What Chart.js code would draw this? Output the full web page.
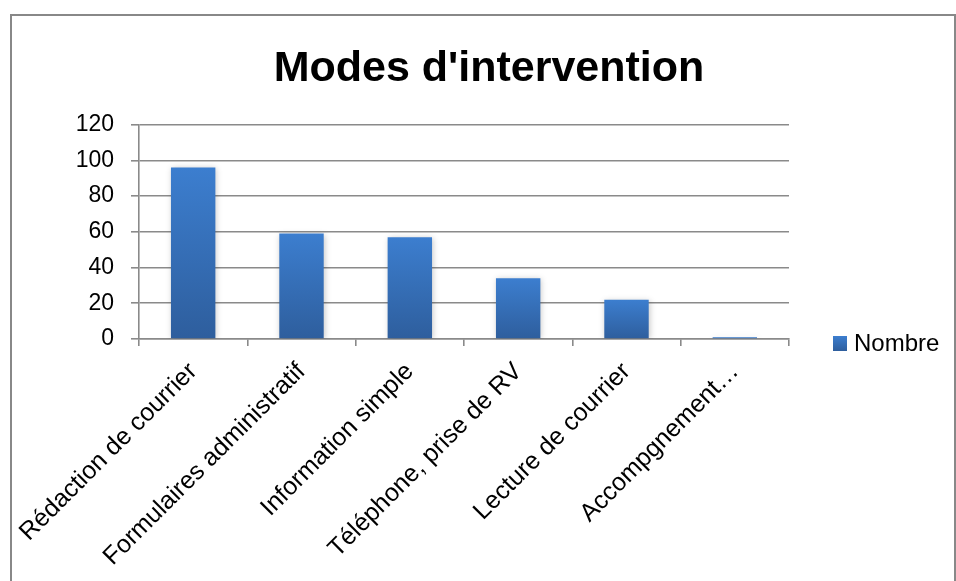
<!DOCTYPE html>
<html><head><meta charset="utf-8">
<script src="https://cdn.jsdelivr.net/npm/chart.js@4"></script>
<style>
html,body{margin:0;padding:0;background:#fff;overflow:hidden}
#frame{position:absolute;left:10px;top:14px;width:946px;height:600px;border:2px solid #888;box-sizing:border-box}
#wrap{position:absolute;left:0;top:0;width:956px;height:581px}
</style></head><body>
<div id="frame"></div>
<div id="wrap"><canvas id="c" width="956" height="581"></canvas></div>
<script>
const categories = ["Rédaction de courrier", "Formulaires administratif", "Information simple", "Téléphone, prise de RV", "Lecture de courrier", "Accompgnement…"];
const values = [96, 59, 57, 34, 22, 1];
const seriesName = "Nombre";
const chartTitle = "Modes d'intervention";
const yMin = 0, yMax = 120, yStep = 20;

const FONT = 'Liberation Sans';
const GRID = '#8a8a8a';
const TOP_COL = '#3C7ECF', BOT_COL = '#2E5E9D';

function barFill(ctx) {
  const chart = ctx.chart;
  if (!chart.chartArea) return TOP_COL;
  const y = chart.scales.y;
  const v = ctx.raw;
  const yt = y.getPixelForValue(v), yb = y.getPixelForValue(0);
  if (Math.abs(yb - yt) < 1) return TOP_COL;
  const g = chart.ctx.createLinearGradient(0, yt, 0, yb);
  g.addColorStop(0, TOP_COL);
  g.addColorStop(1, BOT_COL);
  return g;
}

const titleCenterPlugin = {
  id: 'titleCenter',
  afterLayout(chart) {
    const t = chart.titleBlock;
    if (t) { t.left = 10; t.right = 968; }
  }
};

const shadowPlugin = {
  id: 'barShadow',
  beforeDatasetsDraw(chart) {
    const c = chart.ctx;
    c.save();
    c.shadowColor = 'rgba(0,0,0,0.22)';
    c.shadowBlur = 6;
    c.shadowOffsetX = 1;
    c.shadowOffsetY = 1;
  },
  afterDatasetsDraw(chart) {
    chart.ctx.restore();
  }
};

const legendPlugin = {
  id: 'customLegend',
  afterDraw(chart) {
    const c = chart.ctx, a = chart.chartArea;
    const x = a.right + 44, yc = a.bottom + 4;
    c.save();
    const g = c.createLinearGradient(0, yc - 7, 0, yc + 8);
    g.addColorStop(0, TOP_COL); g.addColorStop(1, BOT_COL);
    c.fillStyle = g;
    c.fillRect(x, yc - 7, 14, 15);
    c.fillStyle = '#000';
    c.font = '24px "' + FONT + '"';
    c.textBaseline = 'middle';
    c.textAlign = 'left';
    c.fillText(chart.data.datasets[0].label, x + 21, yc + 1);
    c.restore();
  }
};

new Chart(document.getElementById('c'), {
  type: 'bar',
  data: {
    labels: categories,
    datasets: [{
      label: seriesName,
      data: values,
      backgroundColor: barFill,
      borderWidth: 0,
      barPercentage: 0.82,
      categoryPercentage: 0.5
    }]
  },
  options: {
    responsive: false,
    animation: false,
    devicePixelRatio: 1,
    layout: { padding: { left: 0, right: 167, top: 0, bottom: 0 } },
    plugins: {
      legend: { display: false },
      tooltip: { enabled: false },
      title: {
        display: true,
        text: chartTitle,
        color: '#000',
        font: { family: FONT, size: 43, weight: 'bold', lineHeight: 1.2 },
        padding: { top: 43, bottom: 30 }
      }
    },
    scales: {
      x: {
        offset: true,
        grid: { display: true, drawOnChartArea: false, drawTicks: true, tickLength: 7, color: GRID, lineWidth: 1.6, offset: true },
        border: { display: true, color: GRID, width: 1.6 },
        ticks: { maxRotation: 45, minRotation: 45, autoSkip: false, color: '#000', padding: 11, font: { family: FONT, size: 25 } },
        afterFit(s) { s.height = 242; }
      },
      y: {
        min: yMin, max: yMax,
        ticks: { stepSize: yStep, color: '#000', padding: 17, font: { family: FONT, size: 23 } },
        grid: { color: GRID, lineWidth: 1.6, tickLength: 8 },
        border: { display: true, color: GRID, width: 1.6 },
        afterFit(s) { s.width = 139; }
      }
    }
  },
  plugins: [titleCenterPlugin, shadowPlugin, legendPlugin]
});
</script>
</body></html>
